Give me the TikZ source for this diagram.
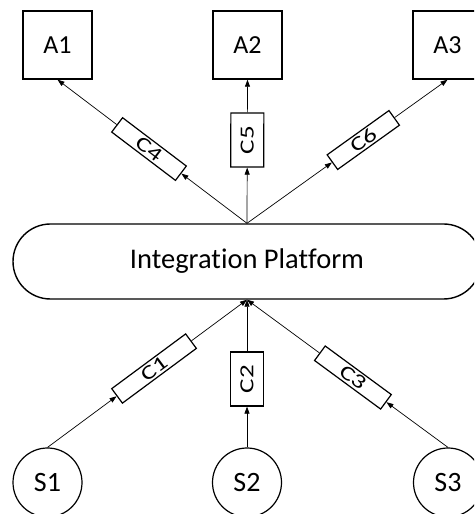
\documentclass[tikz,border=0pt]{standalone}
\usepackage{fontspec}
\setmainfont{Carlito}[Ligatures=NoCommon]
\newfontfamily\connfont{Carlito}[Ligatures=NoCommon, FakeStretch=1.35]
\usetikzlibrary{arrows.meta,shapes.misc}
\begin{document}
\begin{tikzpicture}[x=1pt,y=1pt,
  appbox/.style={draw, line width=1.4pt, minimum width=69pt, minimum height=68pt,
    inner sep=0pt, font=\fontsize{26}{30}\selectfont},
  srcnode/.style={draw, circle, line width=1.2pt, minimum size=69pt, inner sep=0pt,
    font=\fontsize{28}{32}\selectfont},
  platform/.style={draw, rounded rectangle, line width=1.4pt, minimum width=468pt,
    minimum height=75pt, inner sep=0pt, font=\fontsize{28.5}{32}\selectfont},
  connbox/.style={draw, fill=white, line width=1.2pt, inner sep=0pt, minimum height=18pt,
    font=\connfont\fontsize{20}{22}\selectfont, sloped},
  link/.style={line width=0.7pt, -{Triangle[length=7pt,width=5pt]}}
]
\useasboundingbox (0,0) rectangle (474,514);
\clip (0,0) rectangle (474,514);

% applications
\node[appbox] (A1) at (57.5,469) {A1};
\node[appbox] (A2) at (247.5,469) {A2};
\node[appbox] (A3) at (447.5,469) {A3};

% integration platform
\node[platform] (P) at (247,252.5) {Integration Platform};

% sources
\node[srcnode] (S1) at (47.5,31.5) {S1};
\node[srcnode] (S2) at (247,31.5) {S2};
\node[srcnode] (S3) at (448,31.5) {S3};

% connectors on the outgoing side
\path (P.north) -- node[connbox, pos=0.517, minimum width=80pt] (C4) {C4} (A1.south);
\path (P.north) -- node[connbox, pos=0.58, minimum width=54pt, minimum height=33pt] (C5) {C5} (A2.south);
\path (P.north) -- node[connbox, pos=0.58, minimum width=76pt] (C6) {C6} (A3.south);

% connectors on the incoming side
\path (S1.north) -- node[connbox, pos=0.534, minimum width=92pt] (C1) {C1} (P.south);
\path (S2.north) -- node[connbox, pos=0.463, minimum width=54pt, minimum height=33pt] (C2) {C2} (P.south);
\path (S3.north) -- node[connbox, pos=0.473, minimum width=82pt] (C3) {C3} (P.south);

% links
\draw[link] (P.north) -- (C4);
\draw[link] (C4) -- (A1.south);
\draw[link] (P.north) -- (C5);
\draw[link] (C5) -- (A2.south);
\draw[link] (P.north) -- (C6);
\draw[link] (C6) -- (A3.south);

\draw[link] (S1.north) -- (C1);
\draw[link] (C1) -- (P.south);
\draw[link] (S2.north) -- (C2);
\draw[link] (C2) -- (P.south);
\draw[link] (S3.north) -- (C3);
\draw[link] (C3) -- (P.south);
\end{tikzpicture}
\end{document}
